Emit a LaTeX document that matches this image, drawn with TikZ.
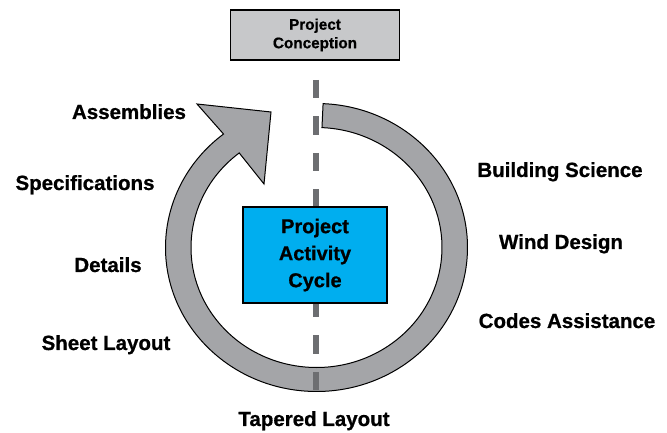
\documentclass[tikz,border=0pt]{standalone}
\usepackage{fontspec}
\setmainfont{Liberation Sans}[BoldFeatures={FakeBold=0.8}]
\usetikzlibrary{shapes,arrows,calc,positioning}
\definecolor{ringgray}{HTML}{A4A5A8}
\definecolor{axisgray}{HTML}{6D6E71}
\definecolor{boxgray}{HTML}{C7C8CA}
\definecolor{hubblue}{HTML}{00AEEF}
\tikzstyle{topic} = [font=\bfseries\fontsize{20.5}{24}\selectfont, anchor=base, inner sep=0pt]
\tikzstyle{phase} = [draw, line width=1.2pt, fill=boxgray, rectangle, text centered, align=center, inner sep=0pt, minimum width=169pt, minimum height=50pt, font=\bfseries\fontsize{15.3}{18.5}\selectfont]
\tikzstyle{hub} = [draw, line width=1.2pt, fill=hubblue, rectangle, text centered, align=center, inner sep=0pt, minimum width=144pt, minimum height=96pt, font=\bfseries\fontsize{20}{27}\selectfont]
\tikzstyle{ring} = [draw, line width=1pt, fill=ringgray, line join=miter]
\tikzstyle{axis} = [draw=axisgray, line width=6pt, dash pattern=on 18.5pt off 18pt]

\begin{document}
\begin{tikzpicture}[x=1pt, y=1pt, node distance=220pt, auto]
        \useasboundingbox (0,0) rectangle (667,433);
        \coordinate (c) at (316.5,185.5);
        % cycle arrow
        \path[ring] ($(c)+(87.5:151pt and 144pt)$)
            arc[start angle=87.5, end angle=-232, x radius=151pt, y radius=144pt]
            -- (197,329) -- (271,321) -- (264,249)
            -- ($(c)+(-232:125.5pt and 120pt)$)
            arc[start angle=-232, end angle=87.5, x radius=125.5pt, y radius=120pt]
            -- cycle;
        \coordinate (axtop) at (316,353);
        \coordinate (axbot) at (316,42);
        \path[axis] (axtop) -- (axbot);
        \node[hub] (cycle) at (315,178) {Project\\Activity\\Cycle};
        \node[phase, above of=cycle] (concept) {Project\\Conception};
        % services
        \node[topic] (assem) at (129,314) {Assemblies};
        \node[topic] (specs) at (85,243) {Specifications};
        \node[topic] (detail) at (108,161) {Details};
        \node[topic] (sheet) at (106,83) {Sheet Layout};
        \node[topic] (science) at (560,256) {Building Science};
        \node[topic] (wind) at (561,184) {Wind Design};
        \node[topic] (codes) at (567,105) {Codes Assistance};
        \node[topic] (taper) at (314,7) {Tapered Layout};
    \end{tikzpicture}
\end{document}
